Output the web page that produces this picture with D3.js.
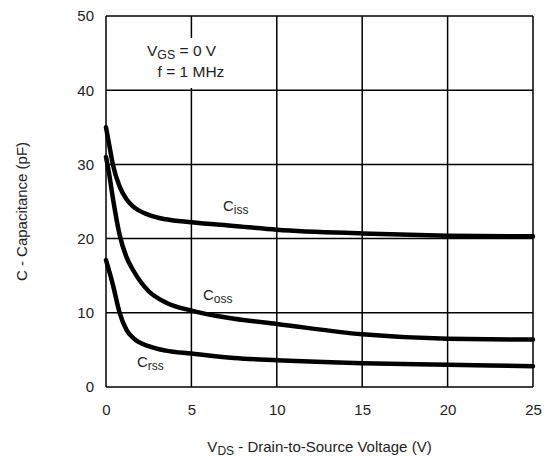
<!DOCTYPE html>
<html lang="en">
<head>
    <meta charset="UTF-8">
    <title>Capacitance vs VDS</title>
    <style>
        body { margin: 0; background: #fff; }
        svg { display: block; font-family: "Liberation Sans", Arial, sans-serif; }
        .grid line { stroke: #000; stroke-width: 1.5px; }
        .curve { fill: none; stroke: #000; stroke-width: 4.5px; stroke-linecap: round; }
        .axis text { font-size: 15px; fill: #222; }
    </style>
    <script src="https://d3js.org/d3.v7.min.js"></script>
</head>
<body>
<div id="chart"></div>
<script>
    // data
    const VDS = [0, 0.2, 0.4, 0.8, 1.2, 1.6, 2.5, 3.5, 5, 7.5, 10, 15, 20, 25];
    const CISS = [35, 32.5, 30, 27, 25.3, 24.3, 23.2, 22.6, 22.2, 21.7, 21.2, 20.7, 20.4, 20.3];
    const COSS = [31, 28.5, 25.5, 20.5, 17.5, 15.7, 12.9, 11.4, 10.3, 9.2, 8.5, 7.1, 6.5, 6.4];
    const CRSS = [17.1, 15.5, 13.8, 10, 7.7, 6.6, 5.5, 4.9, 4.5, 3.9, 3.6, 3.2, 3.0, 2.8];
    const X_TICKS = [0, 5, 10, 15, 20, 25];
    const Y_TICKS = [0, 10, 20, 30, 40, 50];

    var margin = { top: 16, right: 18, bottom: 72, left: 106 },
        width = 551 - margin.left - margin.right,
        height = 459 - margin.top - margin.bottom;

    var x = d3.scaleLinear().domain([0, 25]).range([0, width]);
    var y = d3.scaleLinear().domain([0, 50]).range([height, 0]);

    const svg = d3.select("#chart").append("svg")
        .attr("width", 551)
        .attr("height", 459);

    const g = svg.append("g")
        .attr("transform", "translate(" + margin.left + "," + margin.top + ")");

    // grid + frame
    const grid = g.append("g").attr("class", "grid");
    grid.selectAll("line.v").data(X_TICKS).join("line")
        .attr("x1", d => x(d)).attr("x2", d => x(d))
        .attr("y1", 0).attr("y2", height);
    grid.selectAll("line.h").data(Y_TICKS).join("line")
        .attr("class", "h")
        .attr("x1", 0).attr("x2", width)
        .attr("y1", d => y(d)).attr("y2", d => y(d));

    // axes (labels only)
    g.append("g").attr("class", "axis")
        .attr("transform", "translate(0," + height + ")")
        .call(d3.axisBottom(x).tickValues(X_TICKS).tickSize(0).tickPadding(17))
        .call(a => a.select(".domain").remove());
    g.append("g").attr("class", "axis")
        .call(d3.axisLeft(y).tickValues(Y_TICKS).tickSize(0).tickPadding(12))
        .call(a => a.select(".domain").remove());

    // curves
    const line = d3.line()
        .x((d, i) => x(VDS[i]))
        .y(d => y(d))
        .curve(d3.curveMonotoneX);

    [CISS, COSS, CRSS].forEach(s => {
        g.append("path").attr("class", "curve").attr("d", line(s));
    });

    // helper for text with subscript
    function subText(px, py, main, sub, rest, size) {
        const t = svg.append("text")
            .attr("x", px).attr("y", py)
            .attr("font-size", size).attr("fill", "#222");
        t.append("tspan").text(main);
        t.append("tspan").text(sub).attr("font-size", size * 0.8).attr("dy", 3);
        if (rest) t.append("tspan").text(rest).attr("dy", -3);
        return t;
    }

    // curve labels
    subText(223, 211, "C", "iss", null, 15);
    subText(203, 300, "C", "oss", null, 15);
    subText(137, 367, "C", "rss", null, 15);

    // conditions box (white background hides the grid line)
    svg.append("rect").attr("x", 140).attr("y", 38)
        .attr("width", 88).attr("height", 50).attr("fill", "#fff");
    subText(147, 56, "V", "GS", " = 0 V", 15.5);
    svg.append("text").attr("x", 191).attr("y", 77)
        .attr("text-anchor", "middle").attr("font-size", 15.5).attr("fill", "#222")
        .text("f = 1 MHz");

    // axis titles
    const xt = svg.append("text")
        .attr("x", margin.left + width / 2).attr("y", 452)
        .attr("text-anchor", "middle").attr("font-size", 15).attr("fill", "#222");
    xt.append("tspan").text("V");
    xt.append("tspan").text("DS").attr("font-size", 12).attr("dy", 3);
    xt.append("tspan").text(" - Drain-to-Source Voltage (V)").attr("dy", -3);

    svg.append("text")
        .attr("transform", "translate(27," + (margin.top + height / 2 + 10) + ") rotate(-90)")
        .attr("text-anchor", "middle").attr("font-size", 15).attr("fill", "#222")
        .text("C - Capacitance (pF)");
</script>
</body>
</html>
